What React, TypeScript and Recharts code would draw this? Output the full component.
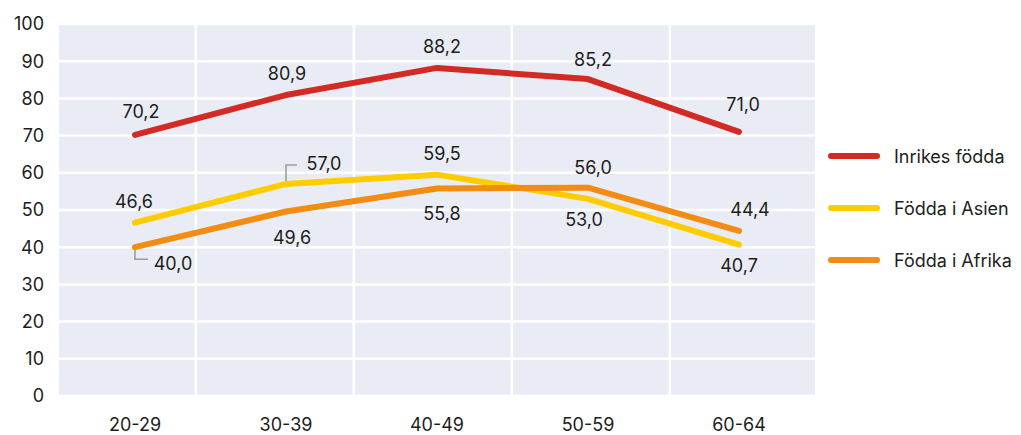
import { LineChart, Line, XAxis, YAxis, CartesianGrid, LabelList, Legend } from "recharts";

const ageGroups = ["20-29", "30-39", "40-49", "50-59", "60-64"];
const inrikesFodda = [70.2, 80.9, 88.2, 85.2, 71.0];
const foddaAsien = [46.6, 57.0, 59.5, 53.0, 40.7];
const foddaAfrika = [40.0, 49.6, 55.8, 56.0, 44.4];
const yTicks = [0, 10, 20, 30, 40, 50, 60, 70, 80, 90, 100];

const rows = ageGroups.map((g, i) => ({
  group: g,
  inrikes: inrikesFodda[i],
  asien: foddaAsien[i],
  afrika: foddaAfrika[i],
}));

const FONT = "Inter, 'Noto Sans', sans-serif";
const FS = 18;
const TEXT = "#1d1d1b";
const RED = "#d32a23";
const YELLOW = "#ffcc00";
const ORANGE = "#f28c12";
const BG = "#e9ecf4";

// label placement (dx, dy from the point), one per category
const inrikesOffsets = [[6, -23], [1, -22], [5, -21], [5, -20], [4, -27]];
const asienOffsets = [[-1, -21], [38, -20], [5, -21], [-4, 21], [0, 21]];
const afrikaOffsets = [[38, 16], [6, 26], [5, 25], [5, -20], [11, -21]];

// vertical grid lines sit off the category bounds in the original
const vGridFractions = [0.181, 0.39, 0.599, 0.808];

type Callout = { index: number; ly: number; lx: number };

function makeLabel(values: number[], offsets: number[][], callout?: Callout) {
  return (props: any) => {
    const x = props.x ?? props.viewBox?.x;
    const y = props.y ?? props.viewBox?.y;
    const value = Number(props.value);
    let index = props.index;
    if (index === undefined) index = values.indexOf(value);
    if (x === undefined || y === undefined || index < 0) return null;
    const [dx, dy] = offsets[index];
    const txt = value.toFixed(1).replace(".", ",");
    const hasCallout = callout && callout.index === index;
    return (
      <g>
        {hasCallout && (
          <path
            d={`M${x},${y + Math.sign(callout!.ly) * 3} V${y + callout!.ly} H${x + callout!.lx}`}
            fill="none"
            stroke="#9d9d9d"
            strokeWidth={1.6}
          />
        )}
        <text
          x={x + dx}
          y={y + dy}
          textAnchor="middle"
          dominantBaseline="central"
          fontFamily={FONT}
          fontSize={FS}
          fill={TEXT}
        >
          {txt}
        </text>
      </g>
    );
  };
}

const legendItems = [
  { name: "Inrikes födda", color: RED },
  { name: "Födda i Asien", color: YELLOW },
  { name: "Födda i Afrika", color: ORANGE },
];

function LegendBox() {
  return (
    <div style={{ fontFamily: FONT, fontSize: FS, color: TEXT }}>
      {legendItems.map((it) => (
        <div key={it.name} style={{ display: "flex", alignItems: "center", height: 52 }}>
          <svg width={56} height={10} style={{ display: "block" }}>
            <line x1={5} y1={5} x2={51} y2={5} stroke={it.color} strokeWidth={6} strokeLinecap="round" />
          </svg>
          <span style={{ marginLeft: 12, whiteSpace: "nowrap" }}>{it.name}</span>
        </div>
      ))}
    </div>
  );
}

export default function App() {
  return (
    <div style={{ position: "absolute", left: 0, top: 0, width: 1021, height: 435, background: "#fff" }}>
      <LineChart width={1021} height={435} data={rows} margin={{ top: 24, right: 206, bottom: 0, left: 0 }}>
        <CartesianGrid
          fill={BG}
          stroke="#ffffff"
          strokeWidth={2.5}
          verticalCoordinatesGenerator={(p: any) =>
            vGridFractions.map((f) => p.offset.left + f * p.offset.width)
          }
        />
        <XAxis
          dataKey="group"
          axisLine={false}
          tickLine={false}
          tickSize={0}
          tickMargin={22}
          height={39}
          padding={{ left: 76, right: 76 }}
          tick={{ fontFamily: FONT, fontSize: FS, fill: TEXT }}
        />
        <YAxis
          domain={[0, 100]}
          ticks={yTicks}
          axisLine={false}
          tickLine={false}
          tickSize={0}
          tickMargin={15}
          width={59}
          tick={{ fontFamily: FONT, fontSize: FS, fill: TEXT }}
        />
        <Legend
          layout="vertical"
          align="center"
          verticalAlign="middle"
          wrapperStyle={{ left: 826, top: 130, width: 195 }}
          content={() => <LegendBox />}
        />
        <Line
          dataKey="inrikes"
          name="Inrikes födda"
          stroke={RED}
          strokeWidth={6}
          strokeLinecap="round"
          strokeLinejoin="round"
          dot={false}
          activeDot={false}
          isAnimationActive={false}
        >
          <LabelList dataKey="inrikes" content={makeLabel(inrikesFodda, inrikesOffsets)} />
        </Line>
        <Line
          dataKey="asien"
          name="Födda i Asien"
          stroke={YELLOW}
          strokeWidth={6}
          strokeLinecap="round"
          strokeLinejoin="round"
          dot={false}
          activeDot={false}
          isAnimationActive={false}
        >
          <LabelList dataKey="asien" content={makeLabel(foddaAsien, asienOffsets, { index: 1, ly: -19, lx: 11 })} />
        </Line>
        <Line
          dataKey="afrika"
          name="Födda i Afrika"
          stroke={ORANGE}
          strokeWidth={6}
          strokeLinecap="round"
          strokeLinejoin="round"
          dot={false}
          activeDot={false}
          isAnimationActive={false}
        >
          <LabelList dataKey="afrika" content={makeLabel(foddaAfrika, afrikaOffsets, { index: 0, ly: 12, lx: 13 })} />
        </Line>
      </LineChart>
    </div>
  );
}
